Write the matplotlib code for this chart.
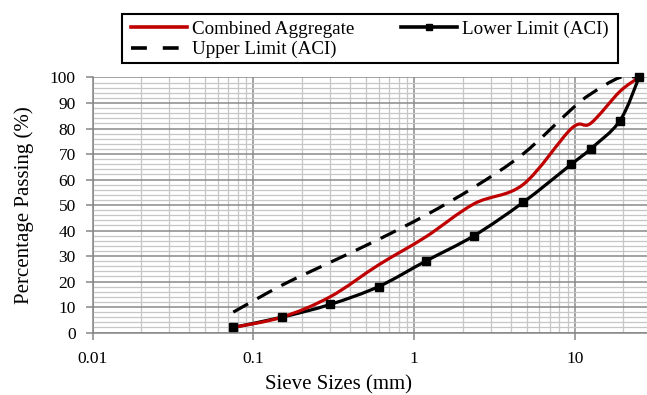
import numpy as np
import matplotlib
matplotlib.use('Agg')
import matplotlib.pyplot as plt
from matplotlib.path import Path
from matplotlib.patches import PathPatch, Rectangle
from matplotlib.lines import Line2D
from matplotlib.ticker import MultipleLocator, LogLocator, FixedLocator, FuncFormatter, NullFormatter

plt.rcParams['font.family'] = ['Liberation Serif', 'DejaVu Serif']

# sieve sizes and percent passing
sieve_mm = [0.075, 0.15, 0.3, 0.6, 1.18, 2.36, 4.75, 9.5, 12.5, 19, 25]
combined = [2, 6, 14, 26.5, 37.5, 50.5, 58, 80, 82, 94.5, 100]
lower_aci = [2, 6, 11, 18, 28, 38, 51, 66, 72, 83, 100]
upper_aci = [8, 18.5, 27.5, 36.5, 46, 57, 70, 87.5, 93.5, 100, 100]

x_ticks = [0.01, 0.1, 1, 10]
x_labels = ['0.01', '0.1', '1', '10']

RED = '#c00000'
W, H = 647, 395


def smooth_path(x, y):
    # excel style smoothed line: catmull-rom tangents as cubic beziers (in log x)
    lx = np.log10(x)
    y = np.asarray(y, float)
    n = len(lx)
    verts = [(x[0], y[0])]
    codes = [Path.MOVETO]
    for i in range(n - 1):
        i0 = max(i - 1, 0)
        i3 = min(i + 2, n - 1)
        c1x = lx[i] + (lx[i + 1] - lx[i0]) / 6
        c1y = y[i] + (y[i + 1] - y[i0]) / 6
        c2x = lx[i + 1] - (lx[i3] - lx[i]) / 6
        c2y = y[i + 1] - (y[i3] - y[i]) / 6
        verts += [(10 ** c1x, c1y), (10 ** c2x, c2y), (x[i + 1], y[i + 1])]
        codes += [Path.CURVE4] * 3
    return Path(verts, codes)


fig = plt.figure(figsize=(W / 100, H / 100), dpi=100)
ax = fig.add_axes([0.1431, 0.1582, 0.857, 0.6456])

ax.set_xscale('log')
ax.set_xlim(0.01, 28.06)
ax.set_ylim(0, 100)

# grid
ax.yaxis.set_major_locator(MultipleLocator(10))
ax.yaxis.set_minor_locator(MultipleLocator(2))
ax.xaxis.set_major_locator(FixedLocator(x_ticks))
ax.xaxis.set_minor_locator(LogLocator(base=10, subs=np.arange(2, 10)))
ax.xaxis.set_major_formatter(FuncFormatter(lambda v, p: x_labels[x_ticks.index(v)] if v in x_ticks else ''))
ax.xaxis.set_minor_formatter(NullFormatter())
ax.grid(which='major', color='#8a8a8a', lw=1.1, zorder=0)
ax.grid(which='minor', color='#c6c6c6', lw=0.9, zorder=0)
ax.set_axisbelow(True)

for s in ['top', 'right']:
    ax.spines[s].set_visible(False)
for s in ['left', 'bottom']:
    ax.spines[s].set_color('#868686')
    ax.spines[s].set_linewidth(1.1)

ax.tick_params(which='major', length=5, width=1.1, color='#868686', labelsize=12.5, direction='out')
ax.tick_params(axis='y', which='major', pad=7)
ax.tick_params(axis='x', which='major', pad=8)
ax.tick_params(which='minor', length=0)

# series
ax.add_patch(PathPatch(smooth_path(sieve_mm, upper_aci), fill=False, ec='black', lw=2.3,
                       linestyle=(0, (5.3, 3.3)), capstyle='butt', zorder=3))
ax.add_patch(PathPatch(smooth_path(sieve_mm, lower_aci), fill=False, ec='black', lw=2.3, zorder=3))
ax.add_patch(PathPatch(smooth_path(sieve_mm, combined), fill=False, ec=RED, lw=2.3, zorder=4))
ax.plot(sieve_mm, lower_aci, ls='none', marker='s', ms=6.2, color='black', zorder=5, clip_on=False)

ax.set_xlabel('Sieve Sizes (mm)', fontsize=15)
ax.xaxis.set_label_coords(0.444, -0.168)
ax.set_ylabel('Percentage Passing (%)', fontsize=15)
ax.yaxis.set_label_coords(-0.105, 0.5)

# legend, frame drawn separately so the side padding can differ from the top
handles = [
    Line2D([], [], color=RED, lw=2.6),
    Line2D([], [], color='black', lw=2.6, linestyle=(0, (4.4, 4.4))),
    Line2D([], [], color='black', lw=2.6, marker='s', ms=5),
]
labels = ['Combined Aggregate', 'Upper Limit (ACI)', 'Lower Limit (ACI)']
fig.legend(handles, labels, loc='upper left', ncol=2,
           bbox_to_anchor=(131 / W, 1 - 20.5 / H),
           fontsize=13.7, frameon=False, handlelength=2.95,
           handletextpad=0.26, borderpad=0, labelspacing=0.17,
           borderaxespad=0, columnspacing=2.45)
fig.patches.append(Rectangle((122 / W, 1 - 63 / H), (618 - 122) / W, (63 - 14.3) / H,
                             transform=fig.transFigure, fill=False, ec='black', lw=1.5))

fig.savefig('out.png', dpi=100, facecolor='white')
